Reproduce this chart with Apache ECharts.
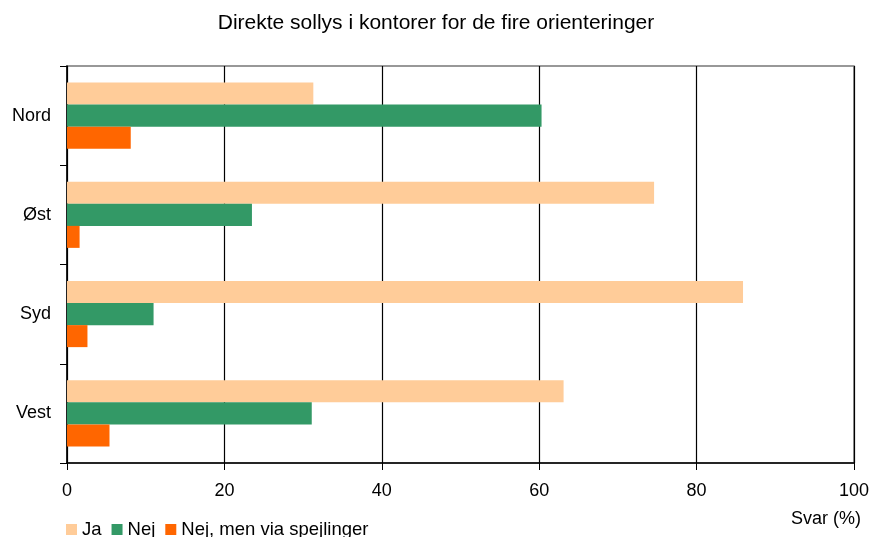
<!DOCTYPE html>
<html><head><meta charset="utf-8">
<script src="https://cdn.jsdelivr.net/npm/echarts@6/dist/echarts.min.js"></script>
<style>html,body{margin:0;padding:0;background:#fff}#c{width:872px;height:537px}</style>
</head><body><div id="c"></div>
<script>
var categories = ['Nord', 'Øst', 'Syd', 'Vest'];
var seriesNames = ['Ja', 'Nej', 'Nej, men via spejlinger'];
var jaValues = [31.3, 74.6, 85.9, 63.1];
var nejValues = [60.3, 23.5, 11.0, 31.1];
var spejlValues = [8.1, 1.6, 2.6, 5.4];
var xTicks = [0, 20, 40, 60, 80, 100];
var colors = ['#FFCC99', '#339966', '#FF6600'];
var F = '"Liberation Sans", Arial, sans-serif';

var chart = echarts.init(document.getElementById('c'), null, {renderer: 'canvas'});
var data = [jaValues, nejValues, spejlValues];
chart.setOption({
  animation: false,
  title: {text: 'Direkte sollys i kontorer for de fire orienteringer', left: 'center', top: 8,
    textStyle: {fontFamily: F, fontSize: 21, fontWeight: 'normal', color: '#000'}},
  legend: {left: 61, top: 515, itemWidth: 11, itemHeight: 11, itemGap: 10, icon: 'rect',
    textStyle: {fontFamily: F, fontSize: 18.5, color: '#000'},
    data: seriesNames},
  grid: {left: 67, right: 17, top: 66, bottom: 74, show: true, borderColor: '#777', borderWidth: 1.5},
  xAxis: {type: 'value', min: xTicks[0], max: xTicks[xTicks.length - 1], interval: 20,
    axisLine: {show: true, lineStyle: {color: '#000', width: 1.5}},
    axisTick: {show: true, length: 7, lineStyle: {color: '#000'}},
    splitLine: {show: true, lineStyle: {color: '#000', width: 1.2}},
    axisLabel: {fontFamily: F, fontSize: 18, color: '#000', margin: 19}},
  yAxis: {type: 'category', data: categories, inverse: true,
    axisLine: {show: true, lineStyle: {color: '#000', width: 1.5}},
    axisTick: {show: true, length: 7, lineStyle: {color: '#000'}},
    axisLabel: {fontFamily: F, fontSize: 18, color: '#000', margin: 16}},
  graphic: [{type: 'text', x: 861, y: 519,
    style: {text: 'Svar (%)', font: '18px ' + F, fill: '#000', align: 'right', verticalAlign: 'middle'}}],
  series: seriesNames.map(function (n, i) {
    return {name: n, type: 'bar', data: data[i], barGap: '0%', barCategoryGap: '33.5%',
      itemStyle: {color: colors[i]}};
  })
});
</script></body></html>
